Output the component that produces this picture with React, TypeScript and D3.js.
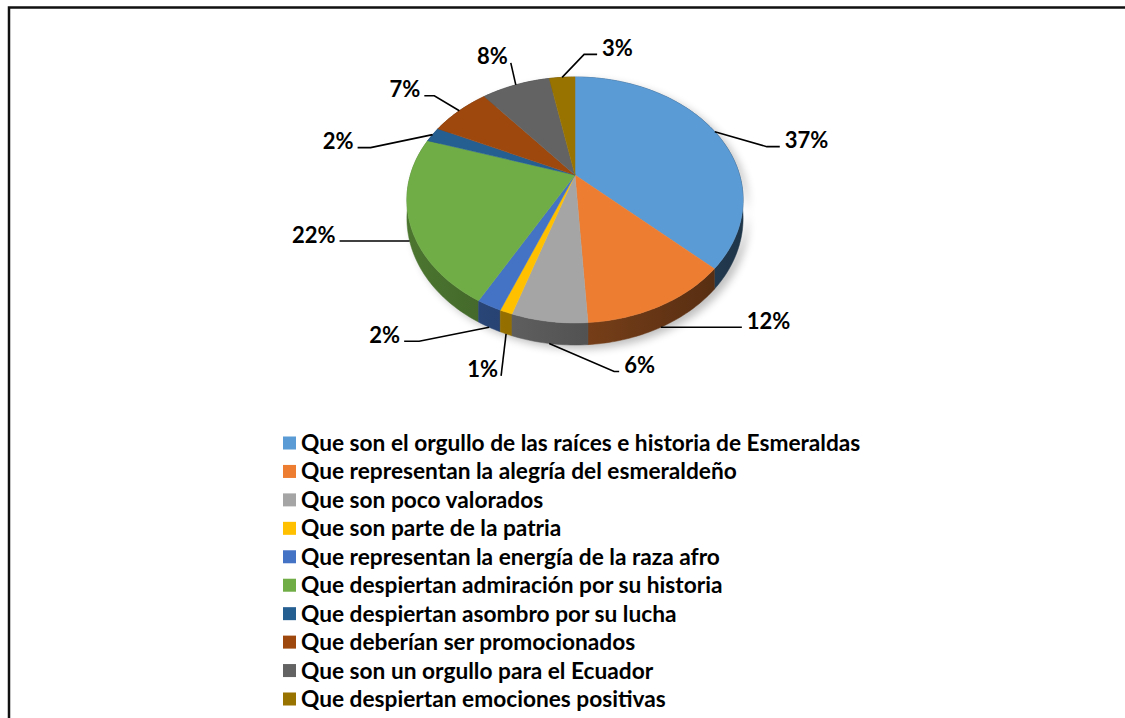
import React, { useEffect, useRef } from 'react';
import * as d3 from 'd3';

const categories = [
  'Que son el orgullo de las raíces e historia de Esmeraldas',
  'Que representan la alegría del esmeraldeño',
  'Que son poco valorados',
  'Que son parte de la patria',
  'Que representan la energía de la raza afro',
  'Que despiertan admiración por su historia',
  'Que despiertan asombro por su lucha',
  'Que deberían ser promocionados',
  'Que son un orgullo para el Ecuador',
  'Que despiertan emociones positivas',
];
const values = [37, 12, 6, 1, 2, 22, 2, 7, 8, 3];
const colors = [
  '#5B9BD5', '#ED7D31', '#A5A5A5', '#FFC000', '#4472C4',
  '#70AD47', '#255E91', '#9E480E', '#636363', '#997300',
];
// leader elbow offsets from the slice anchor and tail length (signed)
const labelLayout = [
  { dx: 52, dy: 15, tail: 13 },
  { dx: 0, dy: 0, tail: 81 },
  { dx: 65, dy: 28, tail: 5 },
  { dx: -5, dy: 42, tail: 0 },
  { dx: -70, dy: 14, tail: -15 },
  { dx: 0, dy: 0, tail: -70 },
  { dx: -62, dy: 13, tail: -13 },
  { dx: -25, dy: -15, tail: -10 },
  { dx: -5, dy: -22, tail: 0 },
  { dx: 22, dy: -23, tail: 13 },
];

const W = 1125;
const HGT = 718;
const CX = 575;
const CY = 175;
const A = 164.6;
const B = 117.9;
const K = 0.203;
const DEPTH = 17.6;

const proj = (theta: number) => {
  const u = Math.sin(theta);
  const v = -Math.cos(theta);
  const w = 1 - K * v;
  return { x: CX + (A * u) / w, y: CY + (B * v) / w, w, v, u };
};

const App = () => {
  const ref = useRef<SVGSVGElement>(null);

  useEffect(() => {
    const svg = d3.select(ref.current);
    svg.selectAll('*').remove();

    const defs = svg.append('defs');
    defs
      .append('filter')
      .attr('id', 'shadow')
      .attr('x', '-20%')
      .attr('y', '-20%')
      .attr('width', '140%')
      .attr('height', '140%')
      .append('feGaussianBlur')
      .attr('stdDeviation', 4);

    // wall gradients, lit from the left
    const shade = d3.scaleLinear().domain([0, 1]).range([0.68, 0.34]);
    const xMin = CX - A * 1.021;
    const xMax = CX + A * 1.021;
    colors.forEach((col, i) => {
      const c = d3.rgb(col);
      const g = defs
        .append('linearGradient')
        .attr('id', `wall${i}`)
        .attr('gradientUnits', 'userSpaceOnUse')
        .attr('x1', xMin)
        .attr('x2', xMax)
        .attr('y1', 0)
        .attr('y2', 0);
      d3.range(0, 1.01, 0.25).forEach((t) => {
        const f = shade(t);
        g.append('stop')
          .attr('offset', t)
          .attr('stop-color', d3.rgb(c.r * f, c.g * f, c.b * f).formatHex());
      });
    });

    svg
      .append('rect')
      .attr('x', 9)
      .attr('y', 7.5)
      .attr('width', W)
      .attr('height', HGT)
      .attr('fill', 'none')
      .attr('stroke', '#111')
      .attr('stroke-width', 2.5);

    const pie = d3.pie<number>().sort(null).value((d) => d);
    const arcs = pie(values);
    const line = d3.line<{ x: number; y: number }>().x((d) => d.x).y((d) => d.y);

    const sample = (a0: number, a1: number) => {
      const n = Math.max(2, Math.ceil(((a1 - a0) * 180) / Math.PI));
      return d3.range(n + 1).map((i) => proj(a0 + ((a1 - a0) * i) / n));
    };

    // shadow
    const full = sample(0, Math.PI * 2);
    const outline = full
      .map((p) => ({ x: p.x, y: p.y }))
      .concat(full.map((p) => ({ x: p.x, y: p.y + DEPTH / p.w })).reverse());
    svg
      .append('path')
      .attr('d', line(outline.map((p) => ({ x: p.x + 5, y: p.y + 4 }))) + 'Z')
      .attr('fill', '#000')
      .attr('opacity', 0.25)
      .attr('filter', 'url(#shadow)');

    const gPie = svg.append('g');

    // walls, back to front
    const walls = arcs
      .map((a, i) => ({ a, i, depth: proj((a.startAngle + a.endAngle) / 2).v }))
      .sort((p, q) => p.depth - q.depth);
    walls.forEach(({ a, i }) => {
      const top = sample(a.startAngle, a.endAngle);
      const bottom = top.map((p) => ({ x: p.x, y: p.y + DEPTH / p.w })).reverse();
      gPie
        .append('path')
        .attr('d', line([...top.map((p) => ({ x: p.x, y: p.y })), ...bottom]) + 'Z')
        .attr('fill', `url(#wall${i})`)
        .attr('stroke', `url(#wall${i})`)
        .attr('stroke-width', 0.5);
    });

    // top faces
    arcs.forEach((a, i) => {
      const pts = [{ x: CX, y: CY }, ...sample(a.startAngle, a.endAngle).map((p) => ({ x: p.x, y: p.y }))];
      gPie
        .append('path')
        .attr('d', line(pts) + 'Z')
        .attr('fill', colors[i])
        .attr('stroke', colors[i])
        .attr('stroke-width', 0.5);
    });

    // data labels
    const gLab = svg.append('g');
    arcs.forEach((a, i) => {
      const m = proj((a.startAngle + a.endAngle) / 2);
      const sx = m.x;
      const sy = m.v > 0 ? m.y + DEPTH / m.w : m.y;
      const L = labelLayout[i];
      const ex = sx + L.dx;
      const ey = sy + L.dy;
      const tx = ex + L.tail;
      gLab
        .append('path')
        .attr('d', line([{ x: sx, y: sy }, { x: ex, y: ey }, { x: tx, y: ey }]))
        .attr('fill', 'none')
        .attr('stroke', '#000')
        .attr('stroke-width', 1.6);
      let anchor = L.tail >= 0 ? 'start' : 'end';
      let lx = tx + (L.tail >= 0 ? 5 : -4);
      let ly = ey - 6;
      if (L.tail === 0) {
        anchor = 'end';
        lx = ex - 3;
        ly = ey - 7;
      }
      gLab
        .append('text')
        .attr('x', lx)
        .attr('y', ly)
        .attr('dy', '0.35em')
        .attr('text-anchor', anchor)
        .attr('font-family', 'Lato, sans-serif')
        .attr('font-weight', 'bold')
        .attr('font-size', 22)
        .attr('fill', '#000')
        .text(`${values[i]}%`);
    });

    // legend
    const y = d3.scalePoint<string>().domain(categories).range([443, 699]);
    const gLeg = svg.append('g');
    categories.forEach((c, i) => {
      const yy = y(c) as number;
      gLeg
        .append('rect')
        .attr('x', 283)
        .attr('y', yy - 6.5)
        .attr('width', 13)
        .attr('height', 13)
        .attr('fill', colors[i]);
      gLeg
        .append('text')
        .attr('x', 301)
        .attr('y', yy)
        .attr('dy', '0.35em')
        .attr('font-family', 'Lato, sans-serif')
        .attr('font-weight', 'bold')
        .attr('font-size', 22.7)
        .attr('fill', '#000')
        .text(c);
    });
  }, []);

  return (
    <svg
      ref={ref}
      width={W}
      height={HGT}
      style={{ position: 'absolute', left: 0, top: 0, background: '#fff' }}
    />
  );
};

export default App;
